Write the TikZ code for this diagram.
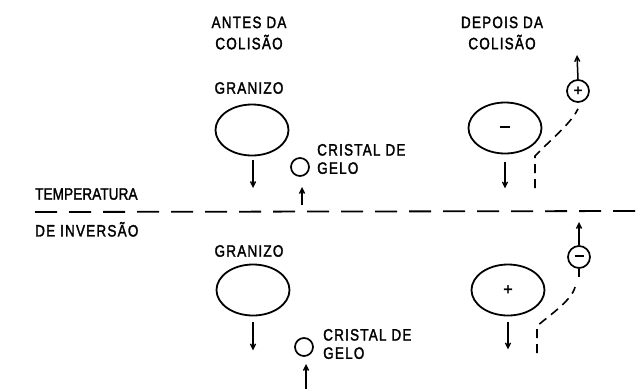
\documentclass[tikz,border=0pt]{standalone}
\usepackage{fontspec}
\usepackage{graphicx}
\newfontfamily\lab[LetterSpace=9,FakeBold=2]{Liberation Sans}
\newfontfamily\labn[LetterSpace=1,FakeBold=2]{Liberation Sans}
\newcommand{\tall}[1]{\scalebox{1}[1.22]{\begin{tabular}{@{}c@{}}#1\end{tabular}}}
\newcommand{\tallL}[1]{\scalebox{1}[1.22]{\begin{tabular}{@{}l@{}}#1\end{tabular}}}
\usetikzlibrary{shapes.geometric,arrows.meta}
\begin{document}
\begin{tikzpicture}[x=1pt,y=-1pt,
  txt/.style={font=\lab\fontsize{13.5}{15}\selectfont, inner sep=0pt},
  txtn/.style={font=\labn\fontsize{13.5}{15}\selectfont, inner sep=0pt, anchor=west},
  hail/.style={draw, line width=1.8pt, ellipse, minimum width=73pt, minimum height=51pt, inner sep=0pt, font=\labn\fontsize{16}{16}\selectfont},
  crys/.style={draw, line width=1.7pt, circle, minimum size=18pt, inner sep=0pt},
  ion/.style={draw, line width=1.7pt, circle, minimum size=22pt, inner sep=0pt, font=\labn\fontsize{15}{15}\selectfont},
  arr/.style={line width=1.5pt, -{Straight Barb[length=5pt,width=5pt,line width=1.4pt]}},
  path/.style={line width=1.6pt, dash pattern=on 9pt off 6pt},
  inv/.style={line width=1.8pt, dash pattern=on 22pt off 12pt}]
\useasboundingbox (0,0) rectangle (642,389);
% headings
\node[txt] (h1) at (249,35) {\tall{ANTES DA\\[1pt]COLISÃO}};
\node[txt] (h2) at (502,35) {\tall{DEPOIS DA\\[1pt]COLISÃO}};
% top left
\node[txt] (gr1) at (249,90) {\tall{GRANIZO}};
\node[hail] (e1) at (252,130) {};
\coordinate (e1a) at (253,188);
\draw[arr] (253,160) -- (e1a);
\node[crys] (c1) at (300,167) {};
\node[txt, anchor=west] (ct1) at (317,161) {\tallL{CRISTAL DE\\GELO}};
\coordinate (c1a) at (302,205);
\coordinate (c1b) at (302,187);
\draw[arr] (c1a) -- (c1b);
% top right
\node[hail] (e2) at (505,128) {\raisebox{2pt}{\rule{10pt}{2.4pt}}};
\draw[arr] ([yshift=-8pt]e2.south) -- ++(0,26);
\node[ion] (p1) at (578,91) {+};
\coordinate (p1a) at (577,55);
\draw[arr] (p1.north) -- (p1a);
\coordinate (t1) at (535,188);
\draw[path] (t1) -- (535,156) .. controls (548,142) and (570,125) .. ([yshift=-6pt]p1.south);
% inversion line
\node[txtn] (tp) at (35,196) {\tallL{TEMPERATURA}};
\node[txt, anchor=west] (di) at (35,232) {\tallL{DE INVERSÃO}};
\coordinate (l0) at (35,212);
\coordinate (l1) at (642,211);
\draw[inv] (l0) -- (l1);
% bottom left
\node[txt] (gr2) at (249,253) {\tall{GRANIZO}};
\node[hail] (e3) at (253,290) {};
\draw[arr] ([yshift=-6pt]e3.south) -- ++(0,28);
\node[crys] (c2) at (304,347) {};
\node[txt, anchor=west] (ct2) at (323,346) {\tallL{CRISTAL DE\\GELO}};
\coordinate (c2a) at (306,389);
\coordinate (c2b) at (306,364);
\draw[arr] (c2a) -- (c2b);
% bottom right
\node[hail] (e4) at (508,290) {+};
\draw[arr] ([yshift=-6pt]e4.south) -- ++(0,27);
\node[ion] (m1) at (579,257) {\raisebox{2.5pt}{\rule{9pt}{1.6pt}}};
\coordinate (m1a) at (579,222);
\draw[arr] (m1.north) -- (m1a);
\draw[line width=1.5pt] (m1.south) -- ++(0,8);
\coordinate (t2) at (537,353);
\draw[path] (t2) -- (537,326) .. controls (550,315) and (572,300) .. (575,287);
\end{tikzpicture}
\end{document}
